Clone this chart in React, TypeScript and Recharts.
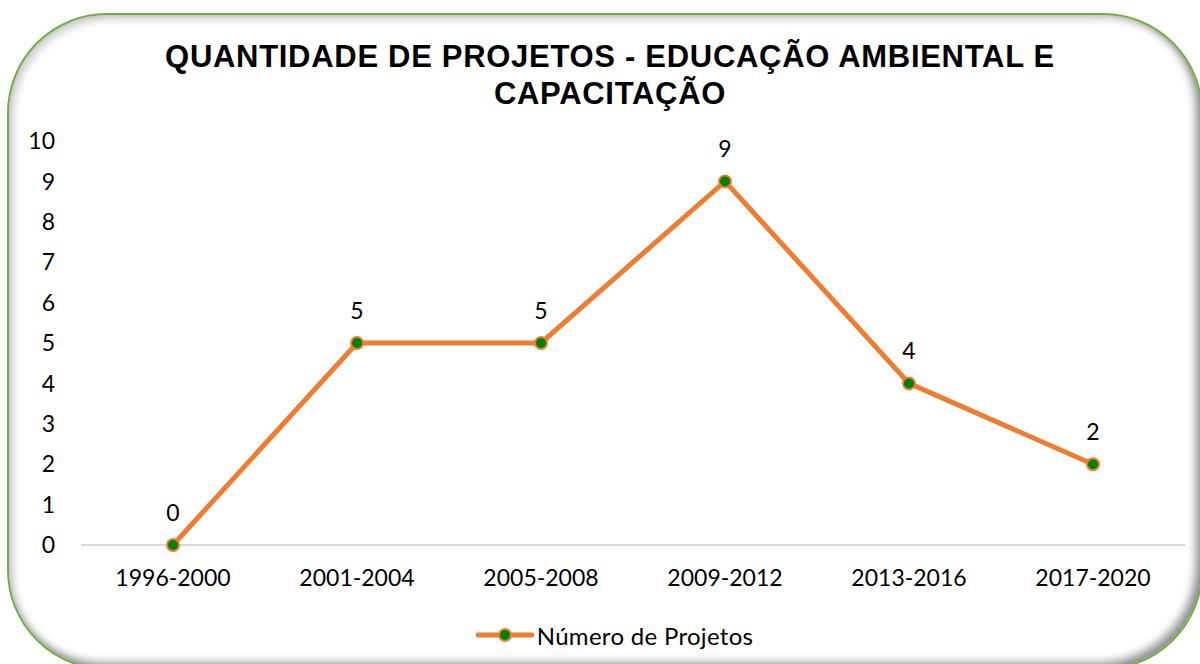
import { Legend, LabelList, Line, LineChart, XAxis, YAxis } from "recharts";

const periods = ["1996-2000", "2001-2004", "2005-2008", "2009-2012", "2013-2016", "2017-2020"];
const projetos = [0, 5, 5, 9, 4, 2];
const yTicks = [0, 1, 2, 3, 4, 5, 6, 7, 8, 9, 10];

const data = periods.map((p, i) => ({ periodo: p, projetos: projetos[i] }));

const ORANGE = "#ED7D31";
const GREEN = "#008000";
const TEXT_FONT = "Lato, 'Open Sans', sans-serif";

function LegendContent() {
  return (
    <div style={{ display: "flex", justifyContent: "center", alignItems: "center", height: 40, paddingLeft: 44 }}>
      <svg width={58} height={20} style={{ marginRight: 3 }}>
        <line x1={2} y1={10} x2={56} y2={10} stroke={ORANGE} strokeWidth={5} strokeLinecap="round" />
        <circle cx={29} cy={10} r={6} fill={GREEN} stroke={ORANGE} strokeWidth={2} />
      </svg>
      <span style={{ fontFamily: TEXT_FONT, fontSize: 24, letterSpacing: 0.3, color: "#000" }}>Número de Projetos</span>
    </div>
  );
}

export default function App() {
  return (
    <div style={{ position: "absolute", left: 0, top: 0, width: 1200, height: 664, overflow: "hidden", background: "#fff" }}>
      <div
        style={{
          position: "absolute",
          left: 7,
          top: 13,
          width: 1196,
          height: 657,
          boxSizing: "border-box",
          border: "2.5px solid #70AD47",
          borderRadius: 100,
          boxShadow: "inset -5px -5px 10px rgba(0,0,0,0.45), inset 4px 4px 8px rgba(0,0,0,0.2)",
          background: "#fff",
        }}
      />
      <div
        style={{
          position: "absolute",
          left: 0,
          top: 38,
          width: 1220,
          textAlign: "center",
          fontFamily: "'Liberation Sans', Arial, sans-serif",
          fontWeight: "bold",
          fontSize: 31,
          letterSpacing: 0.7,
          lineHeight: "37px",
          color: "#000",
        }}
      >
        QUANTIDADE DE PROJETOS - EDUCAÇÃO AMBIENTAL E<br />
        CAPACITAÇÃO
      </div>
      <div style={{ position: "absolute", left: 0, top: 0 }}>
        <LineChart width={1200} height={664} data={data} margin={{ top: 141, right: 15, bottom: 39, left: 0 }}>
          <XAxis
            dataKey="periodo"
            padding={{ left: 92, right: 92 }}
            axisLine={{ stroke: "#D9D9D9", strokeWidth: 2 }}
            tickLine={false}
            tickMargin={19}
            height={40}
            interval={0}
            tick={{ fill: "#000", fontSize: 23, fontFamily: TEXT_FONT }}
          />
          <YAxis
            domain={[0, 10]}
            ticks={yTicks}
            width={81}
            axisLine={false}
            tickLine={false}
            tickMargin={20}
            interval={0}
            tick={{ fill: "#000", fontSize: 23, fontFamily: TEXT_FONT }}
          />
          <Legend verticalAlign="bottom" height={40} content={<LegendContent />} wrapperStyle={{ bottom: 9 }} />
          <Line
            type="linear"
            dataKey="projetos"
            stroke={ORANGE}
            strokeWidth={5}
            dot={{ r: 6, fill: GREEN, stroke: ORANGE, strokeWidth: 2 }}
            activeDot={false}
            isAnimationActive={false}
          >
            <LabelList dataKey="projetos" position="top" offset={24} fill="#000" fontSize={23} fontFamily={TEXT_FONT} />
          </Line>
        </LineChart>
      </div>
    </div>
  );
}
